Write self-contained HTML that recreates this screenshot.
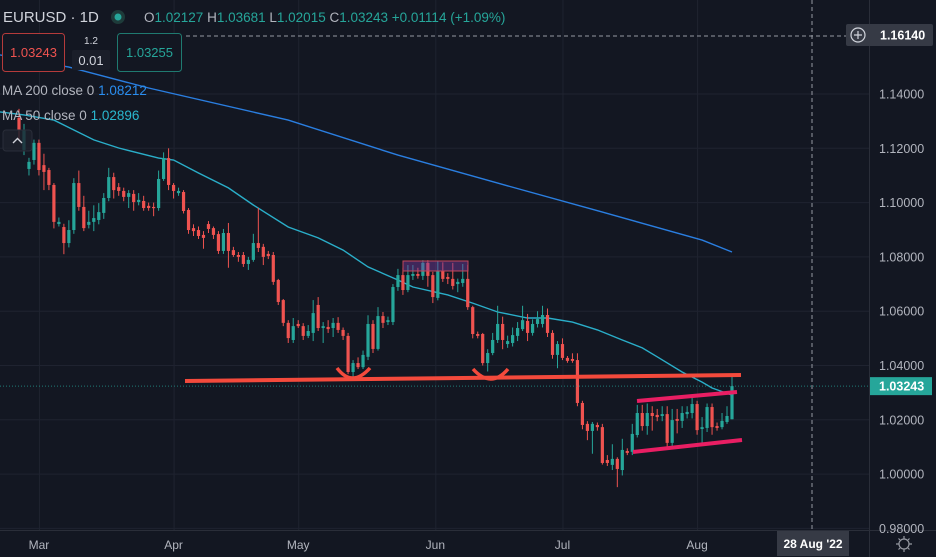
<!DOCTYPE html>
<html><head><meta charset="utf-8">
<style>
html,body{margin:0;padding:0;background:#131722;}
body{width:936px;height:557px;overflow:hidden;position:relative;font-family:"Liberation Sans","DejaVu Sans",sans-serif;}
svg{position:absolute;left:0;top:0;}
.t{font-family:"Liberation Sans","DejaVu Sans",sans-serif;}
</style></head><body>
<svg id="chart" width="936" height="557" viewBox="0 0 936 557" xmlns="http://www.w3.org/2000/svg"></svg>
<script>
const opens=[1.1312,1.1194,1.1124,1.1157,1.1220,1.1138,1.1120,1.1065,1.0921,1.0910,1.0851,1.0899,1.1072,1.0984,1.0918,1.0929,1.0936,1.0962,1.1017,1.1094,1.1057,1.1043,1.1021,1.1032,1.1002,1.1006,1.0988,1.0984,1.0980,1.1087,1.1164,1.1065,1.1035,1.1039,1.0973,1.0906,1.0899,1.0881,1.0921,1.0906,1.0884,1.0822,1.0888,1.0825,1.0807,1.0807,1.0774,1.0789,1.0851,1.0837,1.0811,1.0807,1.0715,1.0641,1.0557,1.0494,1.0553,1.0545,1.0509,1.0520,1.0623,1.0538,1.0542,1.0538,1.0557,1.0531,1.0509,1.0376,1.0409,1.0394,1.0432,1.0553,1.0461,1.0582,1.0560,1.0560,1.0689,1.0733,1.0678,1.0730,1.0737,1.0730,1.0778,1.0733,1.0649,1.0748,1.0726,1.0719,1.0700,1.0704,1.0719,1.0615,1.0516,1.0516,1.0409,1.0446,1.0494,1.0553,1.0479,1.0483,1.0509,1.0534,1.0564,1.0520,1.0553,1.0553,1.0586,1.0520,1.0439,1.0479,1.0428,1.0424,1.0420,1.0262,1.0185,1.0159,1.0181,1.0173,1.0052,1.0034,1.0056,1.0015,1.0085,1.0082,1.0144,1.0225,1.0177,1.0225,1.0218,1.0214,1.0221,1.0115,1.0203,1.0196,1.0221,1.0225,1.0258,1.0166,1.0170,1.0247,1.0177,1.0173,1.0192,1.0202];
const closes=[1.1267,1.1267,1.1150,1.1220,1.1120,1.1113,1.1065,1.0929,1.0929,1.0851,1.0899,1.1072,1.0984,1.0906,1.0929,1.0943,1.0965,1.1017,1.1094,1.1046,1.1043,1.1021,1.1035,1.1002,1.1010,1.0980,1.0980,1.0980,1.1087,1.1164,1.1065,1.1043,1.1043,1.0969,1.0899,1.0895,1.0877,1.0870,1.0903,1.0881,1.0822,1.0888,1.0822,1.0807,1.0800,1.0774,1.0789,1.0851,1.0833,1.0800,1.0803,1.0708,1.0634,1.0557,1.0501,1.0545,1.0545,1.0509,1.0527,1.0593,1.0538,1.0545,1.0534,1.0557,1.0531,1.0509,1.0376,1.0409,1.0394,1.0439,1.0553,1.0461,1.0582,1.0557,1.0567,1.0689,1.0733,1.0678,1.0733,1.0737,1.0730,1.0778,1.0730,1.0652,1.0748,1.0719,1.0719,1.0693,1.0708,1.0719,1.0615,1.0516,1.0509,1.0409,1.0446,1.0494,1.0553,1.0494,1.0490,1.0512,1.0538,1.0567,1.0520,1.0553,1.0571,1.0586,1.0520,1.0439,1.0479,1.0428,1.0417,1.0417,1.0262,1.0181,1.0159,1.0185,1.0173,1.0041,1.0041,1.0056,1.0019,1.0089,1.0078,1.0148,1.0225,1.0177,1.0225,1.0214,1.0210,1.0221,1.0115,1.0199,1.0196,1.0225,1.0229,1.0258,1.0162,1.0173,1.0247,1.0173,1.0170,1.0196,1.0214,1.0324];
const highs=[1.1345,1.1290,1.1165,1.1232,1.1232,1.1180,1.1128,1.1072,1.0945,1.0922,1.0935,1.1090,1.1118,1.1025,1.0970,1.0990,1.0998,1.1035,1.1128,1.1110,1.1072,1.1055,1.1046,1.1046,1.1035,1.1025,1.1000,1.1000,1.1118,1.1185,1.1200,1.1072,1.1055,1.1046,1.0980,1.0920,1.0912,1.0895,1.0932,1.0912,1.0895,1.0903,1.0925,1.0837,1.0818,1.0818,1.0800,1.0885,1.0980,1.0848,1.0822,1.0818,1.0719,1.0645,1.0567,1.0575,1.0567,1.0556,1.0549,1.0641,1.0652,1.0560,1.0567,1.0575,1.0578,1.0540,1.0520,1.0420,1.0430,1.0455,1.0585,1.0567,1.0615,1.0597,1.0580,1.0700,1.0756,1.0760,1.0770,1.0770,1.0760,1.0788,1.0788,1.0745,1.0786,1.0780,1.0740,1.0778,1.0720,1.0774,1.0770,1.0620,1.0525,1.0520,1.0460,1.0520,1.0620,1.0580,1.0510,1.0540,1.0560,1.0620,1.0590,1.0570,1.0600,1.0620,1.0610,1.0530,1.0490,1.0500,1.0435,1.0445,1.0445,1.0270,1.0195,1.0192,1.0190,1.0185,1.0070,1.0110,1.0062,1.0130,1.0095,1.0185,1.0255,1.0255,1.0260,1.0250,1.0240,1.0250,1.0250,1.0240,1.0240,1.0250,1.0250,1.0290,1.0270,1.0210,1.0260,1.0260,1.0190,1.0225,1.0250,1.0368];
const lows=[1.1230,1.1175,1.1100,1.1140,1.1100,1.1046,1.1046,1.0905,1.0912,1.0810,1.0835,1.0885,1.0970,1.0895,1.0905,1.0895,1.0920,1.0940,1.1005,1.1015,1.1025,1.1005,1.0980,1.0970,1.0990,1.0970,1.0970,1.0950,1.0970,1.1080,1.1046,1.1015,1.1025,1.0960,1.0885,1.0877,1.0866,1.0830,1.0888,1.0866,1.0811,1.0811,1.0760,1.0800,1.0782,1.0763,1.0752,1.0782,1.0818,1.0770,1.0792,1.0697,1.0623,1.0545,1.0483,1.0483,1.0538,1.0494,1.0501,1.0490,1.0527,1.0483,1.0520,1.0505,1.0520,1.0494,1.0368,1.0350,1.0387,1.0387,1.0420,1.0446,1.0455,1.0538,1.0549,1.0549,1.0675,1.0660,1.0670,1.0715,1.0720,1.0715,1.0690,1.0630,1.0640,1.0708,1.0700,1.0680,1.0670,1.0690,1.0605,1.0500,1.0500,1.0400,1.0378,1.0438,1.0483,1.0460,1.0465,1.0470,1.0490,1.0527,1.0490,1.0510,1.0540,1.0540,1.0505,1.0425,1.0390,1.0420,1.0410,1.0410,1.0250,1.0165,1.0125,1.0075,1.0160,1.0035,1.0030,1.0015,0.9952,0.9995,1.0070,1.0070,1.0135,1.0160,1.0145,1.0160,1.0195,1.0195,1.0100,1.0100,1.0150,1.0170,1.0205,1.0205,1.0145,1.0110,1.0155,1.0145,1.0160,1.0165,1.0185,1.0202];
const ma50Idx=[-4,1,7,15,20,28,31,36,42,47,54,60,65,70,76,79,86,91,96,102,106,111,116,121,125,128,133,137,139,143];
const ma50Vals=[1.1334,1.1323,1.1304,1.1231,1.1201,1.1164,1.1157,1.1109,1.1054,1.0991,1.0910,1.0870,1.0825,1.0763,1.0715,1.0689,1.0660,1.0630,1.0597,1.0575,1.0575,1.0560,1.0531,1.0494,1.0465,1.0432,1.0376,1.0339,1.0317,1.0291];
const ma200Idx=[-4,10,26,54,76,96,117,137,143];
const ma200Vals=[1.1544,1.1499,1.1422,1.1304,1.1175,1.1072,1.0965,1.0862,1.0818];
const priceTicks=[1.14,1.12,1.10,1.08,1.06,1.04,1.02,1.00,0.98];
const monthLabels=["Mar","Apr","May","Jun","Jul","Aug"];
const monthIdx=[4,31,56,83.5,109,136];

const NS="http://www.w3.org/2000/svg";
const svg=document.getElementById('chart');
function yS(p){return 94+(1.14-p)*2715;}
function xS(i){return 19+i*4.986;}
function mk(tag,attrs,parent){const e=document.createElementNS(NS,tag);for(const k in attrs)e.setAttribute(k,attrs[k]);(parent||svg).appendChild(e);return e;}
function txt(s,attrs,parent){const e=mk('text',attrs,parent);e.textContent=s;return e;}

const grid=mk('g',{});


priceTicks.forEach(p=>{const l=mk('line',{x1:0,x2:869,y1:yS(p),y2:yS(p),stroke:'#1f2330','stroke-width':1},grid);

});
monthIdx.forEach(i=>{const l=mk('line',{x1:xS(i)+0.5,x2:xS(i)+0.5,y1:0,y2:530,stroke:'#1f2330','stroke-width':1},grid);

});

function maPath(idx,vals,color,name){let d='';idx.forEach((i,k)=>{d+=(k?'L':'M')+Math.max(0,xS(i)).toFixed(1)+','+yS(vals[k]).toFixed(1);});
const p=mk('path',{d:d,fill:'none',stroke:color,'stroke-width':1.4});

}
maPath(ma200Idx,ma200Vals,'#2a7ee0','ma200-line');
maPath(ma50Idx,ma50Vals,'#2aaec9','ma50-line');

const cg=mk('g',{});


for(let i=0;i<opens.length;i++){
 const up=closes[i]>=opens[i];const col=up?'#26a69a':'#ef5350';const x=xS(i);
 const w=mk('line',{x1:x,x2:x,y1:yS(highs[i]),y2:yS(lows[i]),stroke:col,'stroke-width':1},cg);
 
 
 const t=yS(Math.max(opens[i],closes[i])),b=yS(Math.min(opens[i],closes[i]));
 const r=mk('rect',{x:x-1.6,y:t,width:3.2,height:Math.max(1.2,b-t),fill:col},cg);
 
 
}

const lp=mk('line',{x1:0,x2:869,y1:yS(closes[closes.length-1]),y2:yS(closes[closes.length-1]),stroke:'#26a69a','stroke-width':1,'stroke-dasharray':'1,2',opacity:0.7});



const hl=mk('line',{x1:185,y1:381,x2:741,y2:375,stroke:'#f44a3c','stroke-width':4});


const s1=mk('path',{d:'M337,368 Q352,388 370,368',fill:'none',stroke:'#f44a3c','stroke-width':3.5});


const s2=mk('path',{d:'M473,369 Q491,389 508,369',fill:'none',stroke:'#f44a3c','stroke-width':3.5});


const bx=mk('rect',{x:403,y:261,width:65,height:10,fill:'rgba(120,60,160,0.45)',stroke:'#c2455a','stroke-width':1});


const c1=mk('line',{x1:637,y1:401,x2:737,y2:392,stroke:'#e91e63','stroke-width':4});


const c2=mk('line',{x1:633,y1:452,x2:742,y2:440,stroke:'#e91e63','stroke-width':4});



const chv=mk('line',{x1:812,x2:812,y1:0,y2:530,stroke:'#9598a1','stroke-width':1,'stroke-dasharray':'4,3'});


const chh=mk('line',{x1:186,x2:846,y1:36,y2:36,stroke:'#9598a1','stroke-width':1,'stroke-dasharray':'4,3'});



const ax=mk('rect',{x:869.5,y:0,width:67,height:557,fill:'#131722'});


const axl=mk('line',{x1:869.5,x2:869.5,y1:0,y2:557,stroke:'#2a2e39','stroke-width':1});


const bxl=mk('line',{x1:0,x2:936,y1:530.5,y2:530.5,stroke:'#2a2e39','stroke-width':1});


priceTicks.forEach(p=>{const t=txt(p.toFixed(5),{x:879,y:yS(p)+4.5,fill:'#b2b5be','font-size':12.5,class:'t'});

});
monthLabels.forEach((m,k)=>{const t=txt(m,{x:xS(monthIdx[k]),y:549,fill:'#b2b5be','font-size':12,'text-anchor':'middle',class:'t'});

});

const lpy=yS(closes[closes.length-1]);
const lb=mk('rect',{x:870,y:lpy-9,width:62,height:18,fill:'#26a69a'});


const lbt=txt('1.03243',{x:879,y:lpy+4.5,fill:'#ffffff','font-size':12.5,'font-weight':'bold',class:'t'});


</script>
<svg width="936" height="557" style="pointer-events:none" xmlns="http://www.w3.org/2000/svg">
 <g>
  <rect x="846" y="24" width="87" height="22" rx="2" fill="#363a45"/>
  <circle cx="858" cy="35" r="7" fill="none" stroke="#d1d4dc" stroke-width="1.2"/>
  <path d="M854,35H862M858,31V39" stroke="#d1d4dc" stroke-width="1.2"/>
  <text x="880" y="39.5" fill="#ffffff" font-size="12.5" font-weight="bold" class="t">1.16140</text>
 </g>
 <g>
  <rect x="777" y="531" width="72" height="25" fill="#363a45"/>
  <text x="813" y="548" fill="#ffffff" font-size="12" font-weight="bold" text-anchor="middle" class="t">28 Aug '22</text>
 </g>
 <g fill="none" stroke="#9598a1" stroke-width="1.2">
  <circle cx="904" cy="544" r="5"/>
  <path d="M904,536V538.5M904,549.5V552M896,544H898.5M909.5,544H912M898.5,538.5L900,540M908,548L909.5,549.5M909.5,538.5L908,540M900,548L898.5,549.5"/>
 </g>
 <text x="3" y="22" fill="#d1d4dc" font-size="15" class="t">EURUSD · 1D</text>
 <circle cx="118" cy="17" r="7" fill="#1e3b3a"/>
 <circle cx="118" cy="17" r="3.5" fill="#26a69a"/>
 <text x="144" y="22" font-size="13.5" class="t"><tspan fill="#b2b5be">O</tspan><tspan fill="#26a69a">1.02127 </tspan><tspan fill="#b2b5be">H</tspan><tspan fill="#26a69a">1.03681 </tspan><tspan fill="#b2b5be">L</tspan><tspan fill="#26a69a">1.02015 </tspan><tspan fill="#b2b5be">C</tspan><tspan fill="#26a69a">1.03243 +0.01114 (+1.09%)</tspan></text>
 <g>
  <rect x="2.5" y="33.5" width="62" height="38" rx="3" fill="#131722" stroke="#b53b3b"/>
  <text x="33.5" y="57" fill="#ef5350" font-size="13" text-anchor="middle" class="t">1.03243</text>
 </g>
 <text x="91" y="44" fill="#d1d4dc" font-size="10" text-anchor="middle" class="t">1.2</text>
 <g>
  <rect x="72" y="50" width="38" height="20" rx="2" fill="#1a1e29"/>
  <text x="91" y="65" fill="#d1d4dc" font-size="13" text-anchor="middle" class="t">0.01</text>
 </g>
 <g>
  <rect x="117.5" y="33.5" width="64" height="38" rx="3" fill="#131722" stroke="#1f7a70"/>
  <text x="149.5" y="57" fill="#26a69a" font-size="13" text-anchor="middle" class="t">1.03255</text>
 </g>
 <text x="2" y="95" font-size="13.5" class="t"><tspan fill="#b2b5be">MA 200 close 0 </tspan><tspan fill="#2a8ef0"> 1.08212</tspan></text>
 <text x="2" y="120" font-size="13.5" class="t"><tspan fill="#b2b5be">MA 50 close 0 </tspan><tspan fill="#2ab8cf"> 1.02896</tspan></text>
 <g>
  <rect x="3" y="130" width="29" height="21" rx="3" fill="rgba(30,34,45,0.8)" stroke="#2a2e39"/>
  <path d="M13,143L17.5,138.5L22,143" fill="none" stroke="#d1d4dc" stroke-width="1.4"/>
 </g>
</svg>
</body></html>
